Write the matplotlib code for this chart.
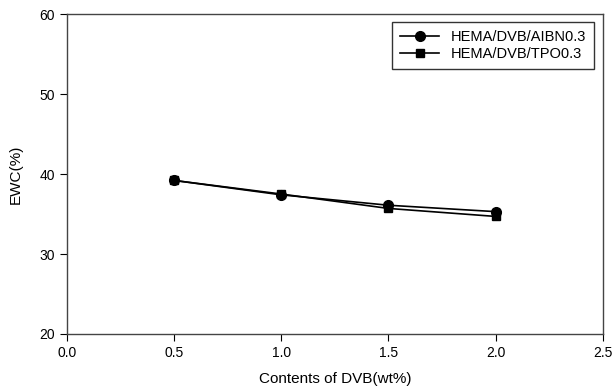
import matplotlib.pyplot as plt
from matplotlib.lines import Line2D

plt.rcParams['font.family'] = ['Liberation Sans', 'DejaVu Sans']

# --------------------------------------------------
# Data
# --------------------------------------------------

dvb = [0.5, 1.0, 1.5, 2.0]

ewc_aibn = [39.2, 37.4, 36.1, 35.3]
err_aibn = [0.3, 0.3, 0.3, 0.3]

ewc_tpo = [39.2, 37.5, 35.7, 34.7]
err_tpo = [0.3, 0.3, 0.3, 0.3]

labels = ['HEMA/DVB/AIBN0.3', 'HEMA/DVB/TPO0.3']

# --------------------------------------------------
# Plot
# --------------------------------------------------

fig = plt.figure(figsize=(6.15, 3.92), dpi=100)
ax = fig.add_axes([0.109, 0.148, 0.871, 0.816])

ax.errorbar(
    dvb, ewc_aibn, yerr=err_aibn,
    color='black', marker='o', markersize=7,
    linewidth=1.2, capsize=3, elinewidth=1
)

ax.errorbar(
    dvb, ewc_tpo, yerr=err_tpo,
    color='black', marker='s', markersize=6,
    linewidth=1.2, capsize=3, elinewidth=1
)

ax.set_xlim(0, 2.5)
ax.set_ylim(20, 60)
ax.set_xticks([0.0, 0.5, 1.0, 1.5, 2.0, 2.5])
ax.set_yticks([20, 30, 40, 50, 60])

ax.set_xlabel("Contents of DVB(wt%)", fontsize=11, labelpad=9)
ax.set_ylabel("EWC(%)", fontsize=11, labelpad=12)

ax.tick_params(direction='out', length=5, labelsize=10, top=False, right=False)

for spine in ax.spines.values():
    spine.set_color('#444444')
    spine.set_linewidth(1.0)

# legend without the error bar glyphs
handles = [
    Line2D([], [], color='black', marker='o', markersize=7, linewidth=1.2),
    Line2D([], [], color='black', marker='s', markersize=6, linewidth=1.2),
]

leg = ax.legend(
    handles, labels,
    loc='upper right', fontsize=10.5, frameon=True, fancybox=False,
    edgecolor='black', handlelength=2.7, borderpad=0.55,
    labelspacing=0.2, bbox_to_anchor=(0.998, 0.998)
)
leg.get_frame().set_linewidth(1.0)

plt.savefig("out.png", dpi=100)
plt.close()
